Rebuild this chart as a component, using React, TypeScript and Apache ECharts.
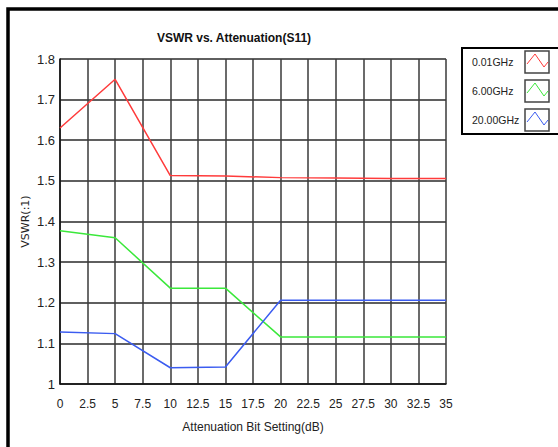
import React, { useEffect, useRef } from "react";
import * as echarts from "echarts";

const attenuation = [0, 5, 10, 15, 20, 25, 30, 35];
const seriesNames = ["0.01GHz", "6.00GHz", "20.00GHz"];
const seriesColors = ["#ff3b3b", "#3be83b", "#3b5cf0"];
const vswr001 = [1.63, 1.75, 1.513, 1.512, 1.508, 1.507, 1.506, 1.506];
const vswr600 = [1.377, 1.36, 1.236, 1.236, 1.116, 1.116, 1.116, 1.116];
const vswr2000 = [1.128, 1.124, 1.04, 1.042, 1.206, 1.206, 1.206, 1.206];
const seriesValues = [vswr001, vswr600, vswr2000];

const FONT = "'Liberation Sans Narrow', 'Liberation Sans', Arial, sans-serif";

export default function App() {
  const ref = useRef<HTMLDivElement>(null);
  useEffect(() => {
    if (!ref.current) return;
    const chart = echarts.init(ref.current, undefined, { renderer: "svg" });
    const legendX = 462;
    const legendY = 48;
    const rowH = 29;
    const legendEls: any[] = [
      {
        type: "rect",
        shape: { x: legendX, y: legendY, width: 120, height: 86 },
        style: { fill: "#fff", stroke: "#000", lineWidth: 2 },
        z: 10,
      },
    ];
    seriesNames.forEach((name, i) => {
      const cy = legendY + 14 + i * rowH;
      legendEls.push({
        type: "text",
        style: {
          text: name,
          x: 472,
          y: cy,
          fill: "#222",
          font: `10.5px ${FONT}`,
          verticalAlign: "middle",
          align: "left",
        },
        z: 11,
      });
      legendEls.push({
        type: "rect",
        shape: { x: 525, y: cy - 11, width: 24, height: 22 },
        style: { fill: "#fff", stroke: "#444", lineWidth: 1.5 },
        z: 11,
      });
      legendEls.push({
        type: "polyline",
        shape: {
          points: [
            [527, cy + 2],
            [535, cy - 8],
            [544, cy + 5],
            [548, cy],
          ],
        },
        style: { stroke: seriesColors[i], lineWidth: 1, fill: "none" },
        z: 12,
      });
    });

    chart.setOption({
      animation: false,
      backgroundColor: "#fff",
      title: {
        text: "VSWR vs. Attenuation(S11)",
        left: 229,
        top: 27,
        textAlign: "center",
        textStyle: {
          fontFamily: FONT,
          fontWeight: "bold",
          fontSize: 12,
          color: "#111",
        },
      },
      grid: { left: 60, top: 59, right: 112, bottom: 63, containLabel: false },
      xAxis: {
        type: "value",
        min: 0,
        max: 35,
        interval: 2.5,
        name: "Attenuation Bit Setting(dB)",
        nameLocation: "middle",
        nameGap: 37,
        nameMoveOverlap: false,
        nameTextStyle: { fontFamily: FONT, fontSize: 12, color: "#222" },
        axisLine: { show: true, lineStyle: { color: "#111", width: 1.5 } },
        axisTick: { show: false },
        axisLabel: { fontFamily: FONT, fontSize: 12, color: "#222", margin: 14 },
        splitLine: { show: true, lineStyle: { color: "#3a3a3a", width: 1.5 } },
      },
      yAxis: {
        type: "value",
        min: 1,
        max: 1.8,
        interval: 0.1,
        name: "VSWR(:1)",
        nameLocation: "middle",
        nameGap: 29,
        nameMoveOverlap: false,
        nameRotate: 90,
        nameTextStyle: { fontFamily: "'DejaVu Sans', sans-serif", fontSize: 11, color: "#222" },
        axisLine: { show: true, lineStyle: { color: "#111", width: 1.5 } },
        axisTick: { show: false },
        axisLabel: {
          fontFamily: FONT,
          fontSize: 13,
          color: "#222",
          margin: 5,
          formatter: (v: number) => (Math.abs(v - 1) < 1e-9 ? "1" : v.toFixed(1)),
        },
        splitLine: { show: true, lineStyle: { color: "#2a2a2a", width: 1.5 } },
      },
      series: seriesNames.map((name, i) => ({
        name,
        type: "line",
        data: attenuation.map((x, j) => [x, seriesValues[i][j]]),
        showSymbol: false,
        symbol: "none",
        lineStyle: { color: seriesColors[i], width: 1.5 },
        z: 3,
      })),
      graphic: [
        {
          type: "rect",
          shape: { x: 8, y: 9, width: 700, height: 600 },
          style: { fill: "none", stroke: "#000", lineWidth: 3.5 },
          z: 20,
        },
        ...legendEls,
      ],
    });
    return () => chart.dispose();
  }, []);
  return (
    <div
      ref={ref}
      style={{ position: "fixed", left: 0, top: 0, width: 558, height: 447 }}
    />
  );
}
